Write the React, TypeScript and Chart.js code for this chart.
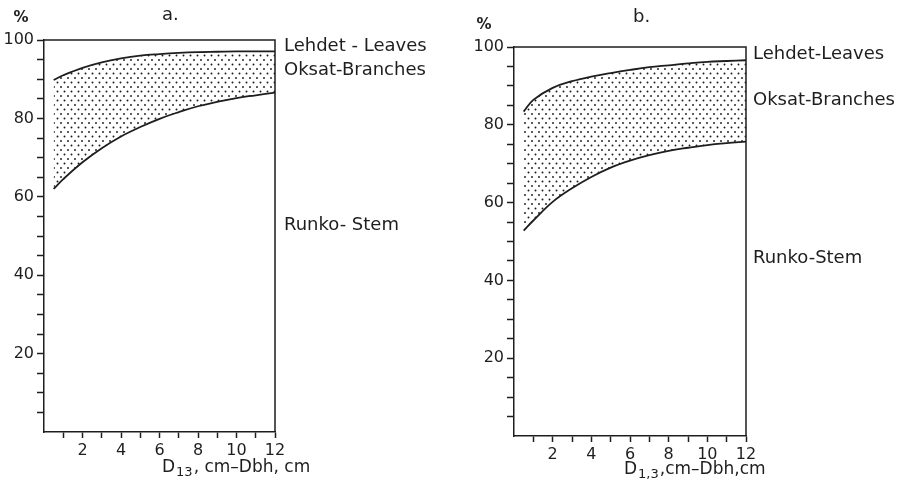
import React, { useEffect, useRef } from 'react';
import { Chart, registerables } from 'chart.js';

Chart.register(...registerables);

// ---- Data ----
const xA = [0.5, 1, 2, 3, 4, 5, 6, 7, 8, 9, 10, 11, 12];
const leavesLineA = [89.8, 91.0, 92.9, 94.3, 95.3, 96.0, 96.4, 96.7, 96.9, 97.0, 97.1, 97.1, 97.1];
const stemLineA = [62.0, 64.5, 68.8, 72.4, 75.4, 77.8, 79.9, 81.6, 83.1, 84.2, 85.2, 85.9, 86.6];

const xB = [0.5, 1, 2, 3, 4, 5, 6, 7, 8, 9, 10, 11, 12];
const leavesLineB = [83.4, 86.4, 89.5, 91.2, 92.4, 93.3, 94.1, 94.8, 95.3, 95.8, 96.2, 96.4, 96.6];
const stemLineB = [52.8, 55.4, 60.2, 63.7, 66.6, 69.0, 70.8, 72.2, 73.3, 74.1, 74.8, 75.3, 75.7];

const yLabelTicks = [20, 40, 60, 80, 100];
const xLabelTicks = [2, 4, 6, 8, 10, 12];

const sideLabelsA = ['Lehdet - Leaves', 'Oksat-Branches', 'Runko- Stem'];
const sideLabelsB = ['Lehdet-Leaves', 'Oksat-Branches', 'Runko-Stem'];

const INK = '#1e1e1e';
const FONT = "'DejaVu Sans', sans-serif";

function makePattern(): CanvasPattern | string {
  const c = document.createElement('canvas');
  c.width = 7;
  c.height = 9;
  const g = c.getContext('2d');
  if (!g) return 'rgba(0,0,0,0.15)';
  g.fillStyle = '#1a1a1a';
  g.beginPath();
  g.arc(1.5, 1.5, 0.95, 0, Math.PI * 2);
  g.fill();
  g.beginPath();
  g.arc(5, 6, 0.95, 0, Math.PI * 2);
  g.fill();
  const p = g.createPattern(c, 'repeat');
  return p || 'rgba(0,0,0,0.15)';
}

type PanelProps = {
  pageLeft: number;
  width: number;
  area: { left: number; top: number; right: number; bottom: number };
  xs: number[];
  upper: number[];
  lower: number[];
  title: string;
  titlePos: [number, number];
  pctPos: [number, number];
  sideLabels: string[];
  sideX: number;
  sideYs: number[];
  sub: string;
  rest: string;
  xTitlePos: [number, number];
};

function Panel(props: PanelProps) {
  const ref = useRef<HTMLCanvasElement | null>(null);
  const H = 485;

  useEffect(() => {
    const canvas = ref.current;
    if (!canvas) return;
    const off = props.pageLeft;
    const a = props.area;
    const left = a.left - off;
    const right = a.right - off;

    const textPlugin = {
      id: 'extras' + props.title,
      afterDraw(chart: any) {
        const ctx = chart.ctx;
        const ca = chart.chartArea;
        ctx.save();
        // top and right borders of the frame
        ctx.strokeStyle = INK;
        ctx.lineWidth = 1.5;
        ctx.beginPath();
        ctx.moveTo(ca.left, ca.top);
        ctx.lineTo(ca.right, ca.top);
        ctx.lineTo(ca.right, ca.bottom);
        ctx.stroke();

        ctx.fillStyle = INK;
        ctx.textBaseline = 'middle';
        // percent sign
        ctx.font = `bold 15px ${FONT}`;
        ctx.textAlign = 'center';
        ctx.fillText('%', props.pctPos[0] - off, props.pctPos[1]);
        // panel title
        ctx.font = `18px ${FONT}`;
        ctx.textAlign = 'left';
        ctx.fillText(props.title, props.titlePos[0] - off, props.titlePos[1]);
        // side labels
        ctx.font = `18px ${FONT}`;
        props.sideLabels.forEach((t, i) => {
          ctx.fillText(t, props.sideX - off, props.sideYs[i]);
        });
        // x axis title with subscript
        let x = props.xTitlePos[0] - off;
        const y = props.xTitlePos[1];
        ctx.font = `17px ${FONT}`;
        ctx.fillText('D', x, y);
        x += ctx.measureText('D').width + 1;
        ctx.font = `13px ${FONT}`;
        ctx.fillText(props.sub, x, y + 5);
        x += ctx.measureText(props.sub).width + 1;
        ctx.font = `17px ${FONT}`;
        ctx.fillText(props.rest, x, y);
        ctx.restore();
      },
    };

    const pattern = makePattern();

    const chart = new Chart(canvas, {
      type: 'line',
      data: {
        datasets: [
          {
            label: 'Runko-Stem',
            data: props.xs.map((x, i) => ({ x, y: props.lower[i] })),
            borderColor: INK,
            borderWidth: 1.8,
            pointRadius: 0,
            fill: false,
            tension: 0.4,
          },
          {
            label: 'Oksat-Branches',
            data: props.xs.map((x, i) => ({ x, y: props.upper[i] })),
            borderColor: INK,
            borderWidth: 1.8,
            pointRadius: 0,
            fill: '-1',
            backgroundColor: pattern as any,
            tension: 0.4,
          },
        ],
      },
      options: {
        animation: false,
        responsive: false,
        devicePixelRatio: 1,
        events: [],
        layout: {
          padding: { left: 0, top: a.top, right: props.width - right, bottom: 0 },
        },
        plugins: {
          legend: { display: false },
          tooltip: { enabled: false },
          title: { display: false },
        },
        scales: {
          x: {
            type: 'linear',
            min: 0,
            max: 12,
            afterFit: (s: any) => {
              s.height = H - a.bottom;
            },
            border: { display: true, color: INK, width: 1.5 },
            grid: {
              display: true,
              drawOnChartArea: false,
              drawTicks: true,
              tickLength: 6,
              tickWidth: 1.5,
              tickColor: (c: any) => (c.tick && c.tick.value === 0 ? 'rgba(0,0,0,0)' : INK),
            },
            ticks: {
              stepSize: 1,
              autoSkip: false,
              maxRotation: 0,
              padding: 3,
              color: INK,
              font: { family: FONT, size: 16 },
              callback: (v: any) => (xLabelTicks.includes(Number(v)) ? String(v) : ''),
            },
          },
          y: {
            type: 'linear',
            min: 0,
            max: 100,
            afterFit: (s: any) => {
              s.width = left;
            },
            border: { display: true, color: INK, width: 1.5 },
            grid: {
              display: true,
              drawOnChartArea: false,
              drawTicks: true,
              tickLength: 7,
              tickWidth: 1.5,
              tickColor: (c: any) => (c.tick && c.tick.value === 0 ? 'rgba(0,0,0,0)' : INK),
            },
            ticks: {
              stepSize: 5,
              autoSkip: false,
              padding: 3,
              color: INK,
              font: { family: FONT, size: 16 },
              callback: (v: any) => (yLabelTicks.includes(Number(v)) ? String(v) : ''),
            },
          },
        },
      },
      plugins: [textPlugin],
    } as any);

    return () => chart.destroy();
  }, []);

  return (
    <canvas
      ref={ref}
      width={props.width}
      height={H}
      style={{ position: 'absolute', left: props.pageLeft, top: 0, width: props.width, height: H }}
    />
  );
}

export default function App() {
  return (
    <div style={{ position: 'absolute', left: 0, top: 0, width: 905, height: 485, background: '#fff' }}>
      <Panel
        pageLeft={0}
        width={450}
        area={{ left: 44, top: 40, right: 275, bottom: 432 }}
        xs={xA}
        upper={leavesLineA}
        lower={stemLineA}
        title="a."
        titlePos={[162, 15]}
        pctPos={[21, 18]}
        sideLabels={sideLabelsA}
        sideX={284}
        sideYs={[46, 70, 225]}
        sub="13"
        rest=", cm–Dbh, cm"
        xTitlePos={[162, 468]}
      />
      <Panel
        pageLeft={450}
        width={455}
        area={{ left: 514, top: 47, right: 746, bottom: 436 }}
        xs={xB}
        upper={leavesLineB}
        lower={stemLineB}
        title="b."
        titlePos={[633, 17]}
        pctPos={[484, 25]}
        sideLabels={sideLabelsB}
        sideX={753}
        sideYs={[54, 100, 258]}
        sub="1,3"
        rest=",cm–Dbh,cm"
        xTitlePos={[624, 470]}
      />
    </div>
  );
}
